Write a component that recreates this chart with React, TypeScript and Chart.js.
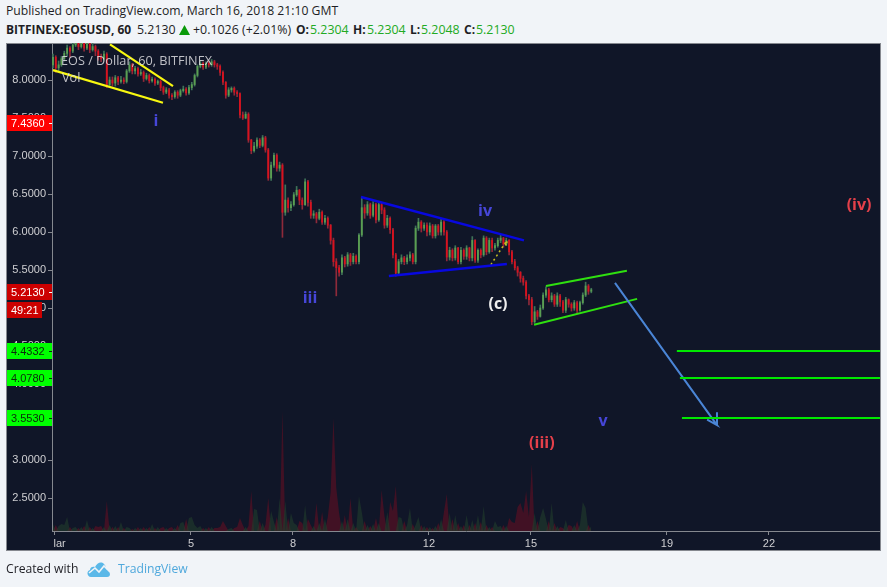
import React, { useEffect, useRef } from "react";
import { Chart, registerables } from "chart.js";

Chart.register(...registerables);

const firstDay = 0.94;
const candlesPerDay = 12;
const firstOpen = 8.2;

const closes = [
  8.30,8.16,8.20,8.28,8.35,8.42,8.38,8.46,8.52,8.44,8.50,8.42,
  8.48,8.40,8.44,8.38,8.30,8.28,8.34,7.94,8.00,7.96,8.03,7.98,
  8.00,7.98,8.12,8.20,8.12,8.15,8.08,8.10,8.02,8.06,7.99,8.01,
  7.96,7.98,7.90,7.84,7.87,7.80,7.78,7.84,7.80,7.86,7.88,7.83,
  7.90,7.94,8.06,8.18,8.22,8.17,8.22,8.20,8.24,8.20,8.18,8.10,
  7.97,7.80,7.87,7.89,7.84,7.82,7.54,7.50,7.55,7.21,7.07,7.13,
  7.21,7.14,7.24,7.08,6.71,6.88,7.01,6.84,6.88,6.26,6.42,6.32,
  6.36,6.49,6.55,6.42,6.36,6.66,6.39,6.22,6.24,6.18,6.26,6.13,
  6.18,6.09,5.89,5.61,5.53,5.47,5.66,5.58,5.70,5.61,5.68,5.61,
  5.96,6.32,6.25,6.36,6.22,6.36,6.16,6.36,6.29,6.09,6.18,6.03,
  5.70,5.46,5.61,5.66,5.61,5.66,5.70,5.61,6.05,6.13,6.05,6.09,
  6.00,6.08,5.95,6.08,6.00,6.13,6.00,5.67,5.76,5.66,5.79,5.61,
  5.76,5.68,5.79,5.66,5.89,5.63,5.76,5.70,5.92,5.74,5.89,5.79,
  5.82,5.89,5.92,5.84,5.89,5.74,5.61,5.53,5.47,5.39,5.34,5.16,
  5.11,4.82,4.95,4.89,5.00,5.17,5.24,5.11,5.16,5.05,5.16,5.08,
  4.97,5.11,5.05,5.00,5.07,4.97,5.07,5.17,5.29,5.22,5.24,
];
const highs = [
  8.34,8.32,8.25,8.31,8.38,8.46,8.44,8.50,8.56,8.54,8.54,8.52,
  8.52,8.50,8.48,8.46,8.40,8.34,8.38,8.36,8.04,8.04,8.06,8.05,
  8.05,8.03,8.14,8.24,8.22,8.18,8.17,8.14,8.12,8.09,8.08,8.04,
  8.03,8.00,8.00,7.92,7.90,7.89,7.82,7.86,7.86,7.88,7.92,7.90,
  7.93,7.97,8.08,8.20,8.25,8.24,8.24,8.25,8.27,8.26,8.22,8.20,
  8.12,7.98,7.90,7.91,7.91,7.86,7.83,7.58,7.58,7.57,7.22,7.18,
  7.24,7.23,7.27,7.26,7.10,6.92,7.04,7.03,6.92,6.90,6.62,6.45,
  6.40,6.52,6.60,6.56,6.45,6.70,6.68,6.42,6.28,6.26,6.30,6.28,
  6.22,6.20,6.10,5.92,5.65,5.56,5.70,5.68,5.73,5.72,5.72,5.70,
  5.98,6.46,6.36,6.40,6.38,6.40,6.38,6.40,6.38,6.32,6.22,6.20,
  6.05,5.72,5.64,5.70,5.68,5.70,5.74,5.72,6.08,6.18,6.15,6.12,
  6.12,6.12,6.10,6.10,6.10,6.18,6.15,6.02,5.80,5.78,5.82,5.80,
  5.80,5.78,5.82,5.80,5.94,5.90,5.78,5.78,5.95,5.94,5.92,5.92,
  5.85,5.92,5.96,5.93,5.92,5.90,5.76,5.64,5.55,5.48,5.42,5.36,
  5.18,5.14,5.02,4.97,5.04,5.20,5.28,5.26,5.20,5.18,5.20,5.18,
  5.10,5.14,5.12,5.07,5.10,5.09,5.09,5.20,5.34,5.31,5.26,
];
const lows = [
  8.16,8.10,8.12,8.18,8.25,8.32,8.30,8.36,8.44,8.40,8.42,8.38,
  8.40,8.36,8.38,8.32,8.26,8.24,8.26,7.90,7.91,7.92,7.92,7.94,
  7.96,7.95,7.96,8.10,8.08,8.08,8.05,8.06,7.98,8.00,7.96,7.97,
  7.93,7.94,7.86,7.81,7.82,7.76,7.74,7.76,7.76,7.78,7.84,7.80,
  7.81,7.87,7.92,8.04,8.16,8.14,8.15,8.17,8.18,8.17,8.14,8.06,
  7.94,7.76,7.78,7.84,7.80,7.78,7.50,7.48,7.49,7.18,7.03,7.05,
  7.10,7.11,7.12,7.05,6.68,6.68,6.85,6.80,6.80,5.93,6.22,6.26,
  6.28,6.34,6.47,6.36,6.30,6.35,6.34,6.18,6.18,6.12,6.16,6.10,
  6.10,6.05,5.84,5.55,5.16,5.42,5.44,5.54,5.55,5.56,5.58,5.58,
  5.58,5.94,6.18,6.22,6.18,6.20,6.12,6.14,6.24,6.05,6.06,5.98,
  5.66,5.42,5.44,5.58,5.57,5.58,5.62,5.58,5.58,6.02,6.00,6.02,
  5.95,5.96,5.92,5.92,5.96,5.96,5.96,5.62,5.63,5.62,5.63,5.58,
  5.58,5.64,5.64,5.62,5.62,5.60,5.60,5.66,5.68,5.70,5.72,5.74,
  5.76,5.80,5.86,5.80,5.82,5.70,5.58,5.50,5.42,5.34,5.30,5.12,
  5.04,4.78,4.80,4.85,4.88,4.98,5.14,5.08,5.08,5.02,5.02,5.02,
  4.94,4.94,5.01,4.96,4.97,4.93,4.96,5.05,5.15,5.18,5.20,
];
const volumes = [
  7,6,5,7,6,14,4,3,4,3,4,5,
  11,4,3,5,4,5,4,30,6,4,5,4,
  9,3,4,3,2,3,4,3,4,3,4,7,
  3,4,3,4,3,3,4,3,6,8,9,12,
  13,14,6,3,5,3,3,4,4,3,3,4,
  10,5,2,3,3,4,13,6,4,5,40,22,
  21,10,8,6,33,20,9,14,33,120,30,13,
  18,8,6,10,8,26,12,6,5,28,8,19,
  12,14,39,113,43,18,10,16,12,33,8,4,
  35,19,10,6,5,7,13,8,41,15,19,29,
  20,45,14,13,10,6,23,7,6,14,6,5,
  4,4,3,5,8,12,19,37,18,12,16,8,
  5,6,16,6,11,8,16,9,25,6,4,4,
  10,4,5,6,5,13,9,8,24,28,18,40,
  14,67,18,10,14,23,12,10,28,8,5,4,
  3,11,6,5,6,10,6,29,23,6,5,
];

const yTicks = [8, 7.5, 7, 6.5, 6, 5.5, 5, 4.5, 4, 3.5, 3, 2.5];
const xTicks = [1, 5, 8, 12, 15, 19, 22];
const xTickLabels = ["\u00a0\u00a0\u00a0lar", "5", "8", "12", "15", "19", "22"];

const yellowLowerX = [0.941, 4.176];
const yellowLowerY = [8.13, 7.70];
const yellowUpperX = [2.618, 4.471];
const yellowUpperY = [8.47, 7.92];
const blueUpperX = [10.0, 14.794];
const blueUpperY = [6.46, 5.89];
const blueLowerX = [10.82, 14.29];
const blueLowerY = [5.42, 5.58];
const dottedX = [13.82, 14.29, 14.29, 14.18];
const dottedY = [5.57, 5.89, 5.82, 5.87];
const greenUpperX = [15.44, 17.82];
const greenUpperY = [5.29, 5.49];
const greenLowerX = [15.09, 18.12];
const greenLowerY = [4.78, 5.12];
const arrowX = [17.47, 20.47, 20.18, 20.47, 20.47];
const arrowY = [5.33, 3.46, 3.53, 3.46, 3.63];
const levelStartX = [19.29, 19.38, 19.44];
const levelValues = [4.4332, 4.078, 3.553];
const levelEndX = 25.4;

const waveLabels = ["i", "iii", "iv", "v", "(c)", "(iii)", "(iv)"];
const waveLabelX = [3.97, 8.5, 13.65, 17.12, 14.03, 15.32, 24.65];
const waveLabelY = [7.46, 5.12, 6.27, 3.51, 5.05, 3.22, 6.35];
const waveLabelColor = ["#4646d8", "#4646d8", "#4646d8", "#4646d8", "#f0f0f0", "#e5404a", "#e5404a"];

const xyPairs = (xs: number[], ys: number[]) => xs.map((x, i) => ({ x, y: ys[i] }));
const dayOf = (i: number) => firstDay + i / candlesPerDay;
const opens = closes.map((_, i) => (i === 0 ? firstOpen : closes[i - 1]));
const isUp = closes.map((c, i) => c >= opens[i]);

const priceTags = [
  { value: 7.436, text: "7.4360", bg: "#ff0000", fg: "#ffffff", w: 45 },
  { value: 5.213, text: "5.2130", bg: "#cc0000", fg: "#ffffff", w: 45 },
  { value: 4.976, text: "49:21", bg: "#cc0000", fg: "#ffffff", w: 35 },
  { value: 4.4332, text: "4.4332", bg: "#00ff00", fg: "#0b2a0b", w: 45 },
  { value: 4.078, text: "4.0780", bg: "#00ff00", fg: "#0b2a0b", w: 45 },
  { value: 3.553, text: "3.5530", bg: "#00ff00", fg: "#0b2a0b", w: 45 },
];

const lineDs = (data: any[], color: string, width: number, extra: any = {}) => ({
  type: "line",
  data,
  borderColor: color,
  borderWidth: width,
  pointRadius: 0,
  fill: false,
  tension: 0,
  xAxisID: "x",
  yAxisID: "y",
  order: 0,
  ...extra,
});

const framePlugin = {
  id: "frame",
  beforeDraw(chart: any) {
    const { ctx } = chart;
    ctx.save();
    ctx.fillStyle = "#101628";
    ctx.fillRect(6, 43, 875, 507);
    ctx.strokeStyle = "#85888f";
    ctx.lineWidth = 1;
    ctx.strokeRect(6.5, 43.5, 874, 507);
    ctx.restore();
  },
  afterDraw(chart: any) {
    const { ctx, scales } = chart;
    ctx.save();
    ctx.textBaseline = "middle";
    ctx.textAlign = "center";
    ctx.font = 'bold 16px "Open Sans"';
    waveLabels.forEach((t, i) => {
      ctx.fillStyle = waveLabelColor[i];
      ctx.fillText(t, scales.x.getPixelForValue(waveLabelX[i]), scales.y.getPixelForValue(waveLabelY[i]));
    });
    ctx.textAlign = "left";
    ctx.font = '12.7px "Open Sans"';
    ctx.fillStyle = "rgba(222,222,226,0.85)";
    ctx.fillText("EOS / Dollar, 60, BITFINEX", 61, 61);
    ctx.fillText("Vol", 62, 78);
    priceTags.forEach((tag) => {
      const y = Math.round(scales.y.getPixelForValue(tag.value));
      ctx.fillStyle = tag.bg;
      ctx.fillRect(7, y - 8, tag.w, 16);
      ctx.fillStyle = tag.fg;
      ctx.font = '11px "Liberation Sans"';
      ctx.textAlign = "left";
      ctx.fillText(tag.text, 11, y + 0.5);
      if (tag.w === 45) {
        ctx.fillRect(49, y, 3, 1);
      }
    });
    ctx.restore();
  },
};

export default function App() {
  const ref = useRef<HTMLCanvasElement | null>(null);
  useEffect(() => {
    const candleColor = isUp.map((u) => (u ? "#5a9e52" : "#d8121e"));
    const wickColor = isUp.map((u) => (u ? "#3f7358" : "#8e2a3a"));
    const chart = new Chart(ref.current as HTMLCanvasElement, {
      type: "bar",
      data: {
        datasets: [
          ...levelValues.map((v, i) =>
            lineDs(xyPairs([levelStartX[i], levelEndX], [v, v]), "#00e800", 2)
          ),
          lineDs(xyPairs(arrowX, arrowY), "#4a85d6", 2),
          lineDs(xyPairs(greenUpperX, greenUpperY), "#2fe010", 2),
          lineDs(xyPairs(greenLowerX, greenLowerY), "#2fe010", 2),
          lineDs(xyPairs(blueUpperX, blueUpperY), "#0808e0", 2.5),
          lineDs(xyPairs(blueLowerX, blueLowerY), "#0808e0", 2.5),
          lineDs(xyPairs(dottedX, dottedY), "#c8c020", 1.5, { borderDash: [2, 3] }),
          lineDs(xyPairs(yellowLowerX, yellowLowerY), "#f8f810", 2.2),
          lineDs(xyPairs(yellowUpperX, yellowUpperY), "#f8f810", 2.2),
          {
            type: "bar",
            data: closes.map((c, i) => ({ x: dayOf(i), y: [opens[i], c] })),
            backgroundColor: candleColor,
            barThickness: 1.2,
            minBarLength: 1,
            grouped: false,
            order: 1,
            xAxisID: "x",
            yAxisID: "y",
          },
          {
            type: "bar",
            data: closes.map((_, i) => ({ x: dayOf(i), y: [lows[i], highs[i]] })),
            backgroundColor: wickColor,
            barThickness: 1,
            grouped: false,
            order: 2,
            xAxisID: "x",
            yAxisID: "y",
          },
          {
            type: "line",
            data: volumes.map((v, i) => ({ x: dayOf(i), y: isUp[i] ? v : 0 })),
            borderWidth: 0,
            pointRadius: 0,
            tension: 0,
            fill: "origin",
            backgroundColor: "rgba(34,62,44,0.6)",
            order: 3,
            xAxisID: "x",
            yAxisID: "vol",
          },
          {
            type: "line",
            data: volumes.map((v, i) => ({ x: dayOf(i), y: isUp[i] ? 0 : v })),
            borderWidth: 0,
            pointRadius: 0,
            tension: 0,
            fill: "origin",
            backgroundColor: "rgba(96,14,34,0.62)",
            order: 4,
            xAxisID: "x",
            yAxisID: "vol",
          },
        ] as any,
      },
      options: {
        responsive: false,
        animation: false,
        devicePixelRatio: 1,
        layout: { padding: { left: 6, right: 7, top: 43, bottom: 37 } },
        plugins: { legend: { display: false }, tooltip: { enabled: false } },
        scales: {
          x: {
            type: "linear",
            offset: false,
            min: 0.912,
            max: 25.265,
            afterBuildTicks: (s: any) => {
              s.ticks = xTicks.map((value) => ({ value }));
            },
            afterFit: (s: any) => {
              s.height = 19;
            },
            border: { color: "#85888f" },
            grid: { offset: false, drawOnChartArea: false, drawTicks: true, tickLength: 4, color: "#85888f" },
            ticks: {
              autoSkip: false,
              maxRotation: 0,
              padding: 2,
              color: "#cfcfd2",
              font: { family: "Liberation Sans", size: 11 },
              callback: (v: any) => xTickLabels[xTicks.indexOf(v)] ?? "",
            },
          },
          y: {
            type: "linear",
            position: "left",
            min: 2.066,
            max: 8.487,
            afterBuildTicks: (s: any) => {
              s.ticks = yTicks.map((value) => ({ value }));
            },
            afterFit: (s: any) => {
              s.width = 46;
            },
            border: { color: "#85888f" },
            grid: { drawOnChartArea: false, drawTicks: true, tickLength: 4, color: "#85888f" },
            ticks: {
              autoSkip: false,
              padding: 2,
              color: "#cfcfd2",
              font: { family: "Liberation Sans", size: 11 },
              callback: (v: any) => Number(v).toFixed(4),
            },
          },
          vol: {
            type: "linear",
            display: false,
            min: 0,
            max: 488,
          },
        },
      } as any,
      plugins: [framePlugin],
    });
    return () => chart.destroy();
  }, []);

  const hdr: React.CSSProperties = {
    position: "absolute",
    left: 6,
    whiteSpace: "nowrap",
    fontFamily: '"Open Sans", sans-serif',
    fontSize: 12.2,
    color: "#1e1e24",
    lineHeight: "16px",
  };
  const num = (left: number, text: string, color = "#1e1e24") => (
    <span style={{ ...hdr, top: 22, left, fontSize: 12.4, color }}>{text}</span>
  );
  const key = (left: number, text: string) => (
    <b style={{ ...hdr, top: 22, left, fontSize: 12 }}>{text}</b>
  );
  return (
    <div style={{ position: "absolute", left: 0, top: 0, width: 887, height: 587, background: "#f1f4f8", overflow: "hidden" }}>
      <div style={{ ...hdr, top: 3 }}>Published on TradingView.com, March 16, 2018 21:10 GMT</div>
      {key(6, "BITFINEX:EOSUSD, 60")}
      {num(137, "5.2130")}
      <svg width="11" height="10" style={{ position: "absolute", left: 179, top: 25 }}>
        <polygon points="5.5,0 11,10 0,10" fill="#0a9a0a" />
      </svg>
      {num(193, "+0.1026 (+2.01%)")}
      {key(296, "O:")}
      {num(310, "5.2304", "#22aa22")}
      {key(353, "H:")}
      {num(367, "5.2304", "#22aa22")}
      {key(410, "L:")}
      {num(421, "5.2048", "#22aa22")}
      {key(464, "C:")}
      {num(476, "5.2130", "#22aa22")}
      <canvas ref={ref} width={887} height={587} style={{ position: "absolute", left: 0, top: 0 }} />
      <div style={{ ...hdr, top: 561 }}>Created with</div>
      <svg width="24" height="16" viewBox="0 0 24 16" style={{ position: "absolute", left: 87, top: 561 }}>
        <path d="M4 16 C0 16 -1 10 3 9 C3 6 6 5 8 6 C10 2 14 0 17 3 C19 5 19 7 19 8 C23 9 25 16 20 16 Z" fill="#5bb8e8" />
        <path d="M2 12 L8 7 L12 11 L17 5 L23 11" fill="none" stroke="#f1f4f8" strokeWidth="1.6" />
      </svg>
      <div style={{ ...hdr, left: 118, top: 561, color: "#4fa8dc" }}>TradingView</div>
    </div>
  );
}
